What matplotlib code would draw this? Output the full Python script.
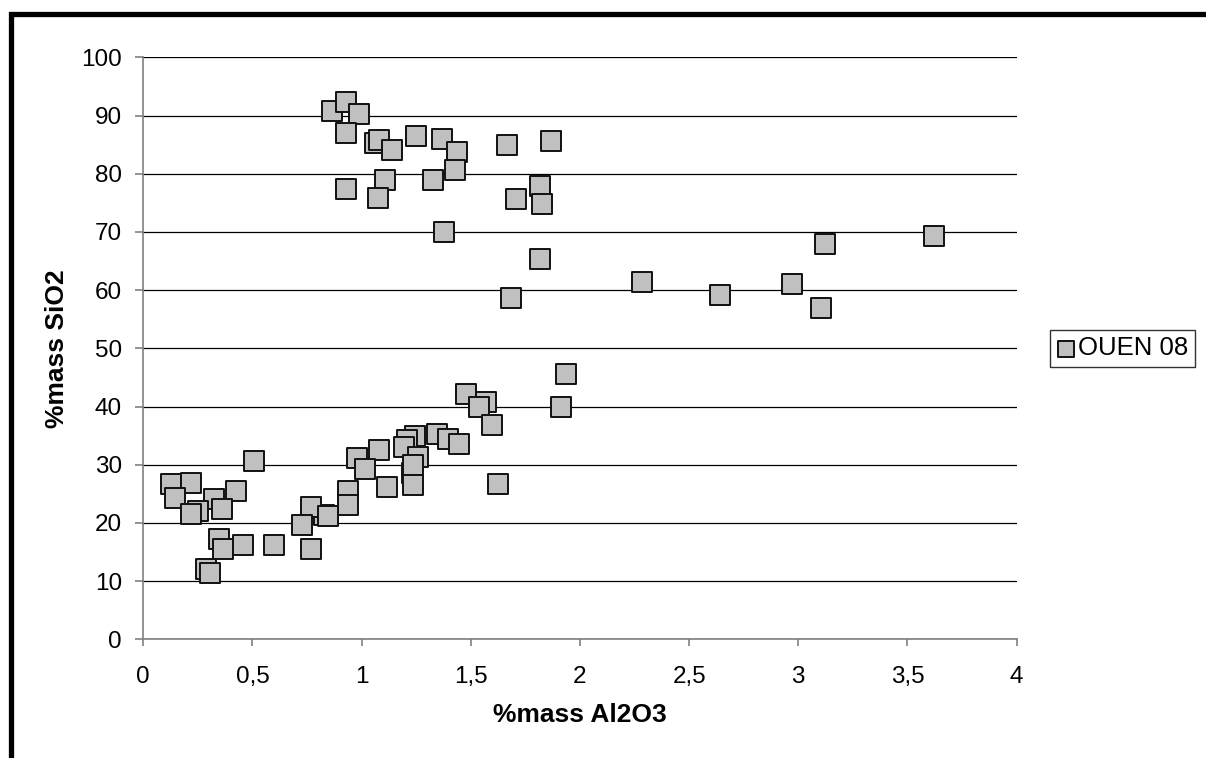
import matplotlib
matplotlib.use("Agg")
import matplotlib.pyplot as plt
from matplotlib.patches import Rectangle
from matplotlib.ticker import FuncFormatter

plt.rcParams["font.family"] = ["Liberation Sans", "DejaVu Sans"]

# OUEN 08 : %mass Al2O3 vs %mass SiO2
al2o3 = [
    # upper group
    0.866, 0.927, 0.988, 0.927, 1.060, 1.080, 1.138, 1.248, 1.367, 1.439,
    1.428, 1.326, 1.107, 1.077, 0.927, 1.376, 1.667, 1.866, 1.707, 1.817,
    1.826, 1.817, 1.684, 2.285, 2.643, 2.973, 3.104, 3.122, 3.622,
    # lower group
    1.477, 1.568, 1.538, 1.597, 1.626, 1.936, 1.913,
    1.347, 1.397, 1.448, 1.246, 1.207, 1.196, 1.257, 1.230, 1.237, 1.237,
    1.078, 0.977, 1.017, 1.118, 0.938, 0.938, 0.829, 0.767, 0.848, 0.726,
    0.597, 0.768,
    0.507, 0.127, 0.217, 0.147, 0.325, 0.426, 0.359, 0.249, 0.217, 0.348,
    0.367, 0.458, 0.287, 0.307,
]
sio2 = [
    90.8, 92.4, 90.3, 87.0, 85.2, 85.8, 84.1, 86.4, 86.0, 83.7,
    80.6, 78.9, 78.9, 75.8, 77.4, 69.9, 84.9, 85.6, 75.7, 77.9,
    74.8, 65.3, 58.6, 61.4, 59.2, 61.1, 56.9, 67.9, 69.3,
    42.2, 40.8, 40.0, 36.8, 26.7, 45.5, 39.9,
    35.3, 34.4, 33.6, 35.0, 34.2, 33.0, 31.3, 28.5, 29.9, 26.5,
    32.6, 31.2, 29.3, 26.1, 25.4, 23.1, 21.3, 22.7, 21.2, 19.6,
    16.2, 15.6,
    30.6, 26.7, 26.9, 24.3, 24.1, 25.5, 22.4, 22.1, 21.6, 17.3,
    15.5, 16.2, 12.1, 11.4,
]
series_name = "OUEN 08"
x_ticks = [0, 0.5, 1, 1.5, 2, 2.5, 3, 3.5, 4]
y_ticks = list(range(0, 101, 10))

fig = plt.figure(figsize=(12.06, 7.58), dpi=100)
fig.patch.set_facecolor("white")

# outer chart frame (clipped on right/bottom like the original)
fig.patches.append(Rectangle((10.8 / 1206, -0.1), 1.2, (758 - 14.2) / 758 + 0.1,
                             transform=fig.transFigure, fill=False,
                             edgecolor="black", linewidth=3.8, zorder=0))

ax = fig.add_axes([0.1188, 0.1566, 0.7241, 0.7678])
ax.scatter(al2o3, sio2, marker="s", s=225, facecolor="#c0c0c0",
           edgecolor="#111111", linewidths=1.4, zorder=3, label=series_name)

ax.set_xlim(0, 4)
ax.set_ylim(0, 100)
ax.set_xticks(x_ticks)
ax.set_yticks(y_ticks)
ax.xaxis.set_major_formatter(FuncFormatter(lambda v, p: f"{v:g}".replace(".", ",")))
ax.grid(axis="y", color="black", linewidth=0.9)
ax.set_axisbelow(True)

for s in ("top", "right"):
    ax.spines[s].set_visible(False)
for s in ("left", "bottom"):
    ax.spines[s].set_color("#808080")
    ax.spines[s].set_linewidth(1.2)
ax.tick_params(direction="out", color="#808080", width=1.2, labelsize=17.5)
ax.tick_params(axis="x", length=5, pad=14)
ax.tick_params(axis="y", length=6, pad=9.4)

ax.set_xlabel("%mass Al2O3", fontsize=19, fontweight="bold", labelpad=11)
ax.set_ylabel("%mass SiO2", fontsize=19, fontweight="bold", labelpad=8.8)

leg = ax.legend(loc="center left", bbox_to_anchor=(1.038, 0.5), frameon=True,
                fancybox=False, fontsize=18.5, handletextpad=0.05,
                borderpad=0.25, handlelength=0.8, markerscale=0.8,
                borderaxespad=0)
leg.get_frame().set_edgecolor("black")
leg.get_frame().set_linewidth(1.0)

fig.savefig("out.png", dpi=100, facecolor="white")
